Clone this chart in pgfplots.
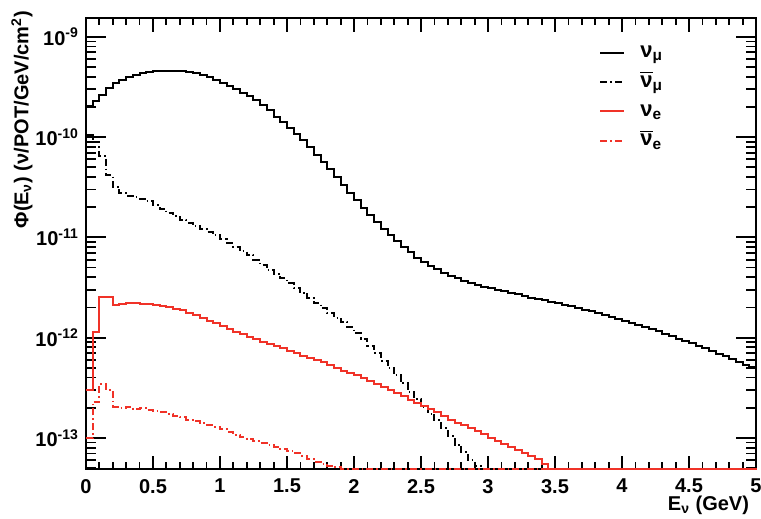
\documentclass[border=0pt]{standalone}
\usepackage{fontspec}
\setmainfont{Liberation Sans}
\usepackage{pgfplots}
\pgfplotsset{compat=1.18}
\definecolor{rootred}{RGB}{240,50,40}
\pgfplotsset{
  rootframe/.style={
    scale only axis, width=335pt, height=225.5pt,
    xmin=0, xmax=5, ymin=4.9e-14, ymax=1.54e-9,
    axis line style={line width=1pt},
    tick style={line width=0.9pt, black},
    tick align=inside,
  },
  hist/.style={const plot mark left, line width=1pt},
  dd/.style={dash pattern=on 3.5pt off 1.5pt on 0.8pt off 1.5pt},
}

\begin{document}
\begin{tikzpicture}[font=\bfseries]
%% y ticks (longer ticks, as in ROOT)
\begin{axis}[ymode=log, rootframe,
  xtick=\empty, minor x tick num=0,
  ytick={1e-13,1e-12,1e-11,1e-10,1e-9},
  yticklabels={10\textsuperscript{-13},10\textsuperscript{-12},10\textsuperscript{-11},10\textsuperscript{-10},10\textsuperscript{-9}},
  minor ytick={5e-14,6e-14,7e-14,8e-14,9e-14,2e-13,3e-13,4e-13,5e-13,6e-13,7e-13,8e-13,9e-13,2e-12,3e-12,4e-12,5e-12,6e-12,7e-12,8e-12,9e-12,2e-11,3e-11,4e-11,5e-11,6e-11,7e-11,8e-11,9e-11,2e-10,3e-10,4e-10,5e-10,6e-10,7e-10,8e-10,9e-10},
  major tick length=10pt, minor tick length=5pt,
  yticklabel style={font=\fontsize{10}{12}\selectfont\bfseries},
]
\end{axis}
%% x ticks and the histograms
\begin{axis}[ymode=log, rootframe, clip=false,
  ytick=\empty, minor y tick num=0,
  xtick={0,0.5,1,1.5,2,2.5,3,3.5,4,4.5,5},
  xticklabels={0,0.5,1,1.5,2,2.5,3,3.5,4,4.5,5},
  minor x tick num=4,
  major tick length=6.75pt, minor tick length=3.4pt,
  xticklabel style={font=\fontsize{10}{12}\selectfont\bfseries, yshift=-1.5pt},
  legend cell align=left,
  legend style={at={(0.7657,0.953)}, anchor=north west, draw=none, fill=none,
    inner sep=0pt, row sep=1.7pt, column sep=6.5pt,
    font=\fontsize{11}{12}\selectfont\bfseries,
    nodes={inner sep=1pt, text height=8pt, text depth=3pt}},
  legend image code/.code={\draw[#1] (0pt,0pt) -- (12pt,0pt);},
]
% nu_mu
\addplot[hist, black] coordinates {
(0.00,2.05e-10) (0.05,2.3e-10) (0.10,2.65e-10) (0.15,3.1e-10) (0.20,3.45e-10)
(0.25,3.7e-10) (0.30,3.95e-10) (0.35,4.2e-10) (0.40,4.38e-10) (0.45,4.5e-10)
(0.50,4.55e-10) (0.55,4.57e-10) (0.60,4.57e-10) (0.65,4.56e-10) (0.70,4.53e-10)
(0.75,4.45e-10) (0.80,4.35e-10) (0.85,4.15e-10) (0.90,3.95e-10) (0.95,3.72e-10)
(1.00,3.48e-10) (1.05,3.22e-10) (1.10,3.0e-10) (1.15,2.78e-10) (1.20,2.55e-10)
(1.25,2.33e-10) (1.30,2.1e-10) (1.35,1.85e-10) (1.40,1.6e-10) (1.45,1.4e-10)
(1.50,1.22e-10) (1.55,1.07e-10) (1.60,9.3e-11) (1.65,7.9e-11) (1.70,6.7e-11)
(1.75,5.7e-11) (1.80,4.8e-11) (1.85,4.0e-11) (1.90,3.35e-11) (1.95,2.8e-11)
(2.00,2.35e-11) (2.05,1.98e-11) (2.10,1.68e-11) (2.15,1.42e-11) (2.20,1.22e-11)
(2.25,1.05e-11) (2.30,9.2e-12) (2.35,8.1e-12) (2.40,7.1e-12) (2.45,6.3e-12)
(2.50,5.7e-12) (2.55,5.2e-12) (2.60,4.8e-12) (2.65,4.45e-12) (2.70,4.15e-12)
(2.75,3.9e-12) (2.80,3.7e-12) (2.85,3.5e-12) (2.90,3.35e-12) (2.95,3.2e-12)
(3.00,3.1e-12) (3.05,3.0e-12) (3.10,2.9e-12) (3.15,2.8e-12) (3.20,2.7e-12)
(3.25,2.6e-12) (3.30,2.5e-12) (3.35,2.42e-12) (3.40,2.35e-12) (3.45,2.27e-12)
(3.50,2.2e-12) (3.55,2.12e-12) (3.60,2.05e-12) (3.65,1.98e-12) (3.70,1.9e-12)
(3.75,1.83e-12) (3.80,1.76e-12) (3.85,1.69e-12) (3.90,1.62e-12) (3.95,1.55e-12)
(4.00,1.48e-12) (4.05,1.41e-12) (4.10,1.35e-12) (4.15,1.28e-12) (4.20,1.22e-12)
(4.25,1.16e-12) (4.30,1.1e-12) (4.35,1.04e-12) (4.40,9.8e-13) (4.45,9.3e-13)
(4.50,8.8e-13) (4.55,8.3e-13) (4.60,7.8e-13) (4.65,7.3e-13) (4.70,6.9e-13)
(4.75,6.5e-13) (4.80,6.1e-13) (4.85,5.75e-13) (4.90,5.4e-13) (4.95,5.1e-13)
(5.00,5.1e-13)
};
\addlegendentry{ν\textsubscript{μ}}
% anti nu_mu
\addplot[hist, black, dd] coordinates {
(0.00,1.05e-10) (0.05,9.0e-11) (0.10,6.5e-11) (0.15,4.2e-11) (0.20,3.2e-11)
(0.25,2.75e-11) (0.30,2.6e-11) (0.35,2.5e-11) (0.40,2.42e-11) (0.45,2.3e-11)
(0.50,2.1e-11) (0.55,1.92e-11) (0.60,1.75e-11) (0.65,1.62e-11) (0.70,1.5e-11)
(0.75,1.4e-11) (0.80,1.3e-11) (0.85,1.2e-11) (0.90,1.12e-11) (0.95,1.05e-11)
(1.00,9.6e-12) (1.05,8.8e-12) (1.10,8.0e-12) (1.15,7.3e-12) (1.20,6.6e-12)
(1.25,5.9e-12) (1.30,5.3e-12) (1.35,4.75e-12) (1.40,4.3e-12) (1.45,3.9e-12)
(1.50,3.5e-12) (1.55,3.15e-12) (1.60,2.8e-12) (1.65,2.5e-12) (1.70,2.2e-12)
(1.75,1.98e-12) (1.80,1.76e-12) (1.85,1.58e-12) (1.90,1.42e-12) (1.95,1.27e-12)
(2.00,1.12e-12) (2.05,9.7e-13) (2.10,8.3e-13) (2.15,7.0e-13) (2.20,5.9e-13)
(2.25,5.0e-13) (2.30,4.2e-13) (2.35,3.5e-13) (2.40,2.9e-13) (2.45,2.45e-13)
(2.50,2.05e-13) (2.55,1.75e-13) (2.60,1.5e-13) (2.65,1.25e-13) (2.70,1.05e-13)
(2.75,8.6e-14) (2.80,7.2e-14) (2.85,6.0e-14) (2.90,5.2e-14) (2.95,4.9e-14)
(5.00,4.9e-14)
};
\addlegendentry{$\overline{\mbox{ν}}$\textsubscript{μ}}
% nu_e
\addplot[hist, rootred] coordinates {
(0.00,3.0e-13) (0.05,1.15e-12) (0.10,2.55e-12) (0.15,2.55e-12) (0.20,2.1e-12)
(0.25,2.15e-12) (0.30,2.2e-12) (0.35,2.2e-12) (0.40,2.18e-12) (0.45,2.15e-12)
(0.50,2.1e-12) (0.55,2.05e-12) (0.60,2.0e-12) (0.65,1.95e-12) (0.70,1.88e-12)
(0.75,1.78e-12) (0.80,1.68e-12) (0.85,1.58e-12) (0.90,1.48e-12) (0.95,1.39e-12)
(1.00,1.3e-12) (1.05,1.22e-12) (1.10,1.15e-12) (1.15,1.08e-12) (1.20,1.02e-12)
(1.25,9.6e-13) (1.30,9.1e-13) (1.35,8.6e-13) (1.40,8.2e-13) (1.45,7.8e-13)
(1.50,7.4e-13) (1.55,7.0e-13) (1.60,6.6e-13) (1.65,6.3e-13) (1.70,6.0e-13)
(1.75,5.7e-13) (1.80,5.3e-13) (1.85,4.95e-13) (1.90,4.7e-13) (1.95,4.45e-13)
(2.00,4.2e-13) (2.05,3.95e-13) (2.10,3.7e-13) (2.15,3.45e-13) (2.20,3.2e-13)
(2.25,3.0e-13) (2.30,2.8e-13) (2.35,2.6e-13) (2.40,2.4e-13) (2.45,2.25e-13)
(2.50,2.1e-13) (2.55,1.95e-13) (2.60,1.8e-13) (2.65,1.65e-13) (2.70,1.52e-13)
(2.75,1.42e-13) (2.80,1.35e-13) (2.85,1.26e-13) (2.90,1.18e-13) (2.95,1.1e-13)
(3.00,1.0e-13) (3.05,9.4e-14) (3.10,8.8e-14) (3.15,8.2e-14) (3.20,7.6e-14)
(3.25,7.1e-14) (3.30,6.6e-14) (3.35,6.1e-14) (3.40,5.5e-14) (3.45,4.9e-14)
(5.00,4.9e-14)
};
\addlegendentry{ν\textsubscript{e}}
% anti nu_e
\addplot[hist, rootred, dd] coordinates {
(0.00,1.0e-13) (0.05,2.3e-13) (0.10,3.45e-13) (0.15,3.0e-13) (0.20,2.05e-13)
(0.25,2.0e-13) (0.30,2.05e-13) (0.35,1.95e-13) (0.40,2.0e-13) (0.45,1.9e-13)
(0.50,1.85e-13) (0.55,1.8e-13) (0.60,1.72e-13) (0.65,1.65e-13) (0.70,1.6e-13)
(0.75,1.52e-13) (0.80,1.48e-13) (0.85,1.42e-13) (0.90,1.36e-13) (0.95,1.3e-13)
(1.00,1.22e-13) (1.05,1.15e-13) (1.10,1.07e-13) (1.15,1.02e-13) (1.20,9.8e-14)
(1.25,9.3e-14) (1.30,8.9e-14) (1.35,8.5e-14) (1.40,8.2e-14) (1.45,7.8e-14)
(1.50,7.4e-14) (1.55,7.0e-14) (1.60,6.6e-14) (1.65,6.2e-14) (1.70,5.8e-14)
(1.75,5.5e-14) (1.80,5.3e-14) (1.85,5.1e-14) (1.90,4.9e-14) (5.00,4.9e-14)
};
\addlegendentry{$\overline{\mbox{ν}}$\textsubscript{e}}
\end{axis}
\node[rotate=90, anchor=east, font=\fontsize{10}{12}\selectfont\bfseries]
  at (-32pt,232.5pt) {Φ(E\textsubscript{ν}) (ν/POT/GeV/cm\textsuperscript{2})};
\node[anchor=east, font=\fontsize{10}{12}\selectfont\bfseries]
  at (335pt,-18pt) {E\textsubscript{ν} (GeV)};
\pgfresetboundingbox
\useasboundingbox (-43pt,-25pt) rectangle (337.5pt,234.5pt);
\end{tikzpicture}
\end{document}
